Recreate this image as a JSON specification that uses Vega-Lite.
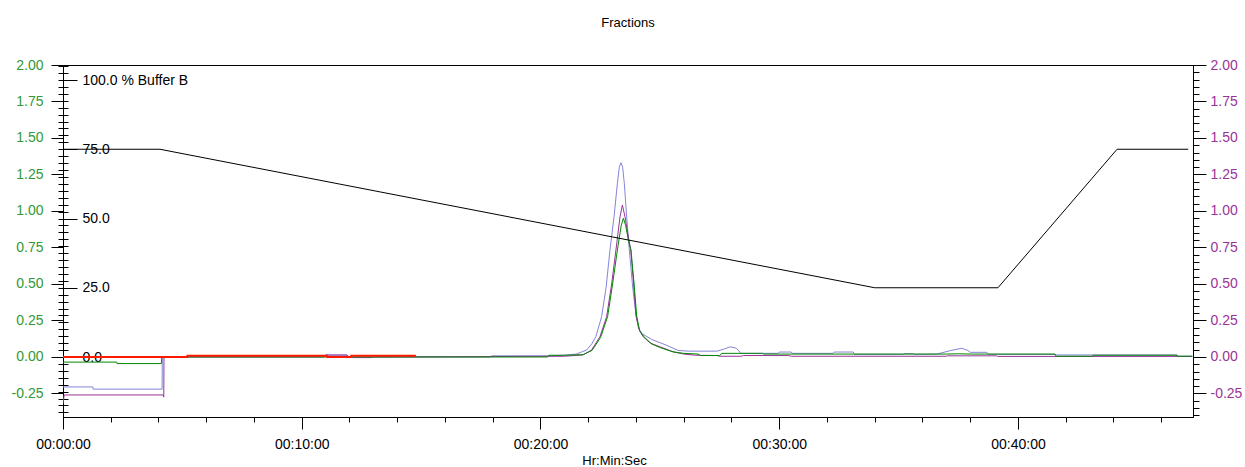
{
  "$schema": "https://vega.github.io/schema/vega-lite/v6.json",
  "width": 1130,
  "height": 352,
  "autosize": {"type": "none"},
  "padding": {"left": 63, "top": 65, "right": 52, "bottom": 50},
  "background": "white",
  "config": {
    "view": {"stroke": "black", "strokeWidth": 1},
    "font": "Liberation Sans",
    "axis": {
      "labelFont": "Liberation Sans",
      "titleFont": "Liberation Sans",
      "domainColor": "black",
      "tickColor": "black",
      "grid": false,
      "labelFontSize": 14,
      "labelColor": "black",
      "labelFlush": false,
      "labelOverlap": false
    }
  },
  "title": {"text": "Fractions", "fontSize": 13, "fontWeight": "normal", "font": "Liberation Sans", "color": "black", "anchor": "middle", "offset": 28},
  "datasets": {
    "traces": [
      {"s": "UV1", "t": 0, "v": -0.205}, {"s": "UV1", "t": 1.25, "v": -0.205}, {"s": "UV1", "t": 1.26, "v": -0.22}, {"s": "UV1", "t": 4.15, "v": -0.22}, {"s": "UV1", "t": 4.16, "v": 0.002}, {"s": "UV1", "t": 10.9, "v": 0.002}, {"s": "UV1", "t": 11.0, "v": 0.012}, {"s": "UV1", "t": 11.9, "v": 0.012}, {"s": "UV1", "t": 12.0, "v": 0.0}, {"s": "UV1", "t": 17.9, "v": 0.0}, {"s": "UV1", "t": 17.95, "v": 0.008}, {"s": "UV1", "t": 20.3, "v": 0.008}, {"s": "UV1", "t": 21.0, "v": 0.012}, {"s": "UV1", "t": 21.5, "v": 0.02}, {"s": "UV1", "t": 21.93, "v": 0.048}, {"s": "UV1", "t": 22.15, "v": 0.09}, {"s": "UV1", "t": 22.32, "v": 0.139}, {"s": "UV1", "t": 22.56, "v": 0.276}, {"s": "UV1", "t": 22.75, "v": 0.48}, {"s": "UV1", "t": 22.91, "v": 0.733}, {"s": "UV1", "t": 23.08, "v": 0.96}, {"s": "UV1", "t": 23.22, "v": 1.19}, {"s": "UV1", "t": 23.3, "v": 1.3}, {"s": "UV1", "t": 23.37, "v": 1.331}, {"s": "UV1", "t": 23.44, "v": 1.3}, {"s": "UV1", "t": 23.51, "v": 1.19}, {"s": "UV1", "t": 23.61, "v": 0.96}, {"s": "UV1", "t": 23.72, "v": 0.733}, {"s": "UV1", "t": 23.86, "v": 0.48}, {"s": "UV1", "t": 24.0, "v": 0.29}, {"s": "UV1", "t": 24.1, "v": 0.2}, {"s": "UV1", "t": 24.25, "v": 0.16}, {"s": "UV1", "t": 24.66, "v": 0.12}, {"s": "UV1", "t": 25.29, "v": 0.08}, {"s": "UV1", "t": 25.76, "v": 0.045}, {"s": "UV1", "t": 26.2, "v": 0.04}, {"s": "UV1", "t": 27.4, "v": 0.04}, {"s": "UV1", "t": 27.7, "v": 0.055}, {"s": "UV1", "t": 27.95, "v": 0.07}, {"s": "UV1", "t": 28.2, "v": 0.06}, {"s": "UV1", "t": 28.4, "v": 0.025}, {"s": "UV1", "t": 29.95, "v": 0.025}, {"s": "UV1", "t": 30.0, "v": 0.034}, {"s": "UV1", "t": 30.5, "v": 0.034}, {"s": "UV1", "t": 30.55, "v": 0.025}, {"s": "UV1", "t": 32.25, "v": 0.025}, {"s": "UV1", "t": 32.3, "v": 0.034}, {"s": "UV1", "t": 33.1, "v": 0.034}, {"s": "UV1", "t": 33.15, "v": 0.018}, {"s": "UV1", "t": 35.2, "v": 0.018}, {"s": "UV1", "t": 35.25, "v": 0.023}, {"s": "UV1", "t": 35.6, "v": 0.023}, {"s": "UV1", "t": 35.65, "v": 0.018}, {"s": "UV1", "t": 36.6, "v": 0.02}, {"s": "UV1", "t": 37.2, "v": 0.045}, {"s": "UV1", "t": 37.64, "v": 0.06}, {"s": "UV1", "t": 37.9, "v": 0.045}, {"s": "UV1", "t": 38.0, "v": 0.032}, {"s": "UV1", "t": 38.7, "v": 0.032}, {"s": "UV1", "t": 38.75, "v": 0.018}, {"s": "UV1", "t": 41.55, "v": 0.018}, {"s": "UV1", "t": 41.6, "v": 0.014}, {"s": "UV1", "t": 46.66, "v": 0.014}, {"s": "UV1", "t": 46.7, "v": 0.005}, {"s": "UV1", "t": 47.3, "v": 0.005},
      {"s": "UV2", "t": 0, "v": -0.32}, {"s": "UV2", "t": 0.05, "v": -0.26}, {"s": "UV2", "t": 4.2, "v": -0.26}, {"s": "UV2", "t": 4.22, "v": -0.275}, {"s": "UV2", "t": 4.23, "v": 0.0}, {"s": "UV2", "t": 10.95, "v": 0.0}, {"s": "UV2", "t": 11.0, "v": 0.014}, {"s": "UV2", "t": 11.9, "v": 0.014}, {"s": "UV2", "t": 11.95, "v": 0.0}, {"s": "UV2", "t": 12.2, "v": -0.004}, {"s": "UV2", "t": 12.9, "v": -0.004}, {"s": "UV2", "t": 13.0, "v": 0.0}, {"s": "UV2", "t": 21.0, "v": 0.005}, {"s": "UV2", "t": 21.78, "v": 0.014}, {"s": "UV2", "t": 22.14, "v": 0.048}, {"s": "UV2", "t": 22.49, "v": 0.139}, {"s": "UV2", "t": 22.77, "v": 0.276}, {"s": "UV2", "t": 22.98, "v": 0.5}, {"s": "UV2", "t": 23.16, "v": 0.733}, {"s": "UV2", "t": 23.33, "v": 0.96}, {"s": "UV2", "t": 23.43, "v": 1.041}, {"s": "UV2", "t": 23.54, "v": 0.96}, {"s": "UV2", "t": 23.65, "v": 0.85}, {"s": "UV2", "t": 23.78, "v": 0.733}, {"s": "UV2", "t": 23.9, "v": 0.5}, {"s": "UV2", "t": 24.0, "v": 0.28}, {"s": "UV2", "t": 24.15, "v": 0.18}, {"s": "UV2", "t": 24.3, "v": 0.139}, {"s": "UV2", "t": 24.6, "v": 0.095}, {"s": "UV2", "t": 25.0, "v": 0.07}, {"s": "UV2", "t": 25.55, "v": 0.036}, {"s": "UV2", "t": 26.0, "v": 0.02}, {"s": "UV2", "t": 26.5, "v": 0.012}, {"s": "UV2", "t": 27.4, "v": 0.01}, {"s": "UV2", "t": 27.5, "v": 0.005}, {"s": "UV2", "t": 28.4, "v": 0.005}, {"s": "UV2", "t": 28.5, "v": 0.01}, {"s": "UV2", "t": 30.4, "v": 0.01}, {"s": "UV2", "t": 30.5, "v": 0.005}, {"s": "UV2", "t": 37.0, "v": 0.005}, {"s": "UV2", "t": 37.05, "v": 0.008}, {"s": "UV2", "t": 39.1, "v": 0.008}, {"s": "UV2", "t": 39.15, "v": 0.004}, {"s": "UV2", "t": 47.3, "v": 0.004},
      {"s": "UV3", "t": 0, "v": -0.035}, {"s": "UV3", "t": 2.25, "v": -0.035}, {"s": "UV3", "t": 2.26, "v": -0.045}, {"s": "UV3", "t": 4.12, "v": -0.045}, {"s": "UV3", "t": 4.14, "v": 0.0}, {"s": "UV3", "t": 20.3, "v": 0.0}, {"s": "UV3", "t": 20.35, "v": 0.012}, {"s": "UV3", "t": 21.0, "v": 0.012}, {"s": "UV3", "t": 21.78, "v": 0.016}, {"s": "UV3", "t": 22.16, "v": 0.045}, {"s": "UV3", "t": 22.52, "v": 0.135}, {"s": "UV3", "t": 22.81, "v": 0.276}, {"s": "UV3", "t": 23.02, "v": 0.5}, {"s": "UV3", "t": 23.22, "v": 0.733}, {"s": "UV3", "t": 23.38, "v": 0.9}, {"s": "UV3", "t": 23.47, "v": 0.95}, {"s": "UV3", "t": 23.57, "v": 0.9}, {"s": "UV3", "t": 23.68, "v": 0.8}, {"s": "UV3", "t": 23.79, "v": 0.733}, {"s": "UV3", "t": 23.92, "v": 0.5}, {"s": "UV3", "t": 24.03, "v": 0.28}, {"s": "UV3", "t": 24.15, "v": 0.18}, {"s": "UV3", "t": 24.33, "v": 0.139}, {"s": "UV3", "t": 24.65, "v": 0.09}, {"s": "UV3", "t": 25.0, "v": 0.065}, {"s": "UV3", "t": 25.55, "v": 0.035}, {"s": "UV3", "t": 26.0, "v": 0.025}, {"s": "UV3", "t": 26.6, "v": 0.02}, {"s": "UV3", "t": 26.7, "v": 0.01}, {"s": "UV3", "t": 27.5, "v": 0.01}, {"s": "UV3", "t": 27.6, "v": 0.025}, {"s": "UV3", "t": 29.3, "v": 0.025}, {"s": "UV3", "t": 29.35, "v": 0.02}, {"s": "UV3", "t": 37.0, "v": 0.02}, {"s": "UV3", "t": 37.5, "v": 0.022}, {"s": "UV3", "t": 38.1, "v": 0.02}, {"s": "UV3", "t": 41.55, "v": 0.02}, {"s": "UV3", "t": 41.6, "v": 0.005}, {"s": "UV3", "t": 43.1, "v": 0.005}, {"s": "UV3", "t": 43.15, "v": 0.012}, {"s": "UV3", "t": 46.66, "v": 0.012}, {"s": "UV3", "t": 46.7, "v": 0.005}, {"s": "UV3", "t": 47.3, "v": 0.005},
      {"s": "Red", "t": 0, "v": 0.0}, {"s": "Red", "t": 5.2, "v": 0.0}, {"s": "Red", "t": 5.21, "v": 0.009}, {"s": "Red", "t": 11.05, "v": 0.009}, {"s": "Red", "t": 11.06, "v": 0.0}, {"s": "Red", "t": 12.06, "v": 0.0}, {"s": "Red", "t": 12.07, "v": 0.009}, {"s": "Red", "t": 14.74, "v": 0.009}, {"s": "Red", "t": 14.75, "v": 0.0}
    ],
    "grad": [
      {"t": 0, "b": 75}, {"t": 4.06, "b": 75}, {"t": 34.0, "b": 25}, {"t": 39.16, "b": 25}, {"t": 44.15, "b": 75}, {"t": 47.13, "b": 75}
    ]
  },
  "layer": [
    {
      "mark": {"type": "rule", "color": "#c4c4d8", "strokeWidth": 1},
      "encoding": {
        "y": {"datum": 0, "type": "quantitative", "scale": {"domain": [-0.411, 2.0], "nice": false, "zero": false}, "axis": null}
      }
    },
    {
      "data": {"name": "traces"},
      "transform": [{"filter": "datum.s == 'UV1'"}],
      "mark": {"type": "line", "color": "#8585d8", "strokeWidth": 1, "clip": true},
      "encoding": {
        "x": {"field": "t", "type": "quantitative", "scale": {"domain": [0, 47.33], "nice": false, "zero": false},
          "axis": {"orient": "bottom", "values": [0, 10, 20, 30, 40], "tickSize": 12, "labelPadding": 8, "labelExpr": "'00:' + (datum.value < 10 ? '0' : '') + datum.value + ':00'", "title": "Hr:Min:Sec", "titleFontSize": 13, "titleFontWeight": "normal", "titleColor": "black", "titlePadding": 3, "titleX": 551}},
        "y": {"field": "v", "type": "quantitative", "scale": {"domain": [-0.411, 2.0], "nice": false, "zero": false},
          "axis": {"orient": "left", "values": [-0.25, 0, 0.25, 0.5, 0.75, 1, 1.25, 1.5, 1.75, 2], "labelExpr": "(datum.value < 0 ? '-' : '') + format(abs(datum.value), '.2f')", "labelColor": "#339933", "tickSize": 12, "labelPadding": 8, "title": null}}
      }
    },
    {
      "data": {"name": "traces"},
      "transform": [{"filter": "datum.s == 'UV2'"}],
      "mark": {"type": "line", "color": "#993399", "strokeWidth": 1, "clip": true},
      "encoding": {
        "x": {"field": "t", "type": "quantitative", "scale": {"domain": [0, 47.33], "nice": false, "zero": false},
          "axis": {"orient": "bottom", "values": [2, 4, 6, 8, 12, 14, 16, 18, 22, 24, 26, 28, 32, 34, 36, 38, 42, 44, 46], "tickSize": 5, "labels": false, "domain": false, "title": null}},
        "y": {"field": "v", "type": "quantitative", "scale": {"domain": [-0.411, 2.0], "nice": false, "zero": false},
          "axis": {"orient": "right", "values": [-0.25, 0, 0.25, 0.5, 0.75, 1, 1.25, 1.5, 1.75, 2], "labelExpr": "(datum.value < 0 ? '-' : '') + format(abs(datum.value), '.2f')", "labelColor": "#993399", "tickSize": 13, "labelPadding": 4, "title": null}}
      }
    },
    {
      "data": {"name": "traces"},
      "transform": [{"filter": "datum.s == 'UV3'"}],
      "mark": {"type": "line", "color": "#008800", "strokeWidth": 1, "clip": true},
      "encoding": {
        "x": {"field": "t", "type": "quantitative", "scale": {"domain": [0, 47.33], "nice": false, "zero": false}, "axis": null},
        "y": {"field": "v", "type": "quantitative", "scale": {"domain": [-0.411, 2.0], "nice": false, "zero": false},
          "axis": {"orient": "right", "values": [-0.4, -0.35, -0.3, -0.25, -0.2, -0.15, -0.1, -0.05, 0, 0.05, 0.1, 0.15, 0.2, 0.25, 0.3, 0.35, 0.4, 0.45, 0.5, 0.55, 0.6, 0.65, 0.7, 0.75, 0.8, 0.85, 0.9, 0.95, 1, 1.05, 1.1, 1.15, 1.2, 1.25, 1.3, 1.35, 1.4, 1.45, 1.5, 1.55, 1.6, 1.65, 1.7, 1.75, 1.8, 1.85, 1.9, 1.95, 2], "tickSize": 6, "labels": false, "domain": false, "title": null}}
      }
    },
    {
      "data": {"name": "traces"},
      "transform": [{"filter": "datum.s == 'Red'"}],
      "mark": {"type": "line", "color": "#ff1a00", "strokeWidth": 2, "clip": true},
      "encoding": {
        "x": {"field": "t", "type": "quantitative", "scale": {"domain": [0, 47.33], "nice": false, "zero": false}, "axis": null},
        "y": {"field": "v", "type": "quantitative", "scale": {"domain": [-0.411, 2.0], "nice": false, "zero": false}, "axis": null}
      }
    },
    {
      "mark": {"type": "rule", "color": "#ff4a2a", "strokeWidth": 1.5, "strokeDash": [4, 3]},
      "encoding": {
        "y": {"datum": 0, "type": "quantitative", "scale": {"domain": [-21.66, 105.42], "nice": false, "zero": false},
          "axis": {"orient": "left", "values": [-20, -17.5, -15, -12.5, -10, -7.5, -5, -2.5, 0, 2.5, 5, 7.5, 10, 12.5, 15, 17.5, 20, 22.5, 25, 27.5, 30, 32.5, 35, 37.5, 40, 42.5, 45, 47.5, 50, 52.5, 55, 57.5, 60, 62.5, 65, 67.5, 70, 72.5, 75, 77.5, 80, 82.5, 85, 87.5, 90, 92.5, 95, 97.5, 100, 102.5, 105], "tickSize": 10, "offset": -5, "labels": false, "domain": false, "title": null}}
      }
    },
    {
      "data": {"name": "grad"},
      "mark": {"type": "line", "color": "black", "strokeWidth": 1, "clip": true},
      "encoding": {
        "x": {"field": "t", "type": "quantitative", "scale": {"domain": [0, 47.33], "nice": false, "zero": false}, "axis": null},
        "y": {"field": "b", "type": "quantitative", "scale": {"domain": [-21.66, 105.42], "nice": false, "zero": false},
          "axis": {"orient": "left", "values": [0, 25, 50, 75, 100], "labelExpr": "datum.value == 100 ? '100.0 % Buffer B' : format(datum.value, '.1f')", "tickSize": -14, "labelPadding": -5, "labelAlign": "left", "labelColor": "black", "domain": false, "title": null}}
      }
    }
  ],
  "resolve": {"scale": {"y": "independent"}, "axis": {"x": "independent", "y": "independent"}}
}
